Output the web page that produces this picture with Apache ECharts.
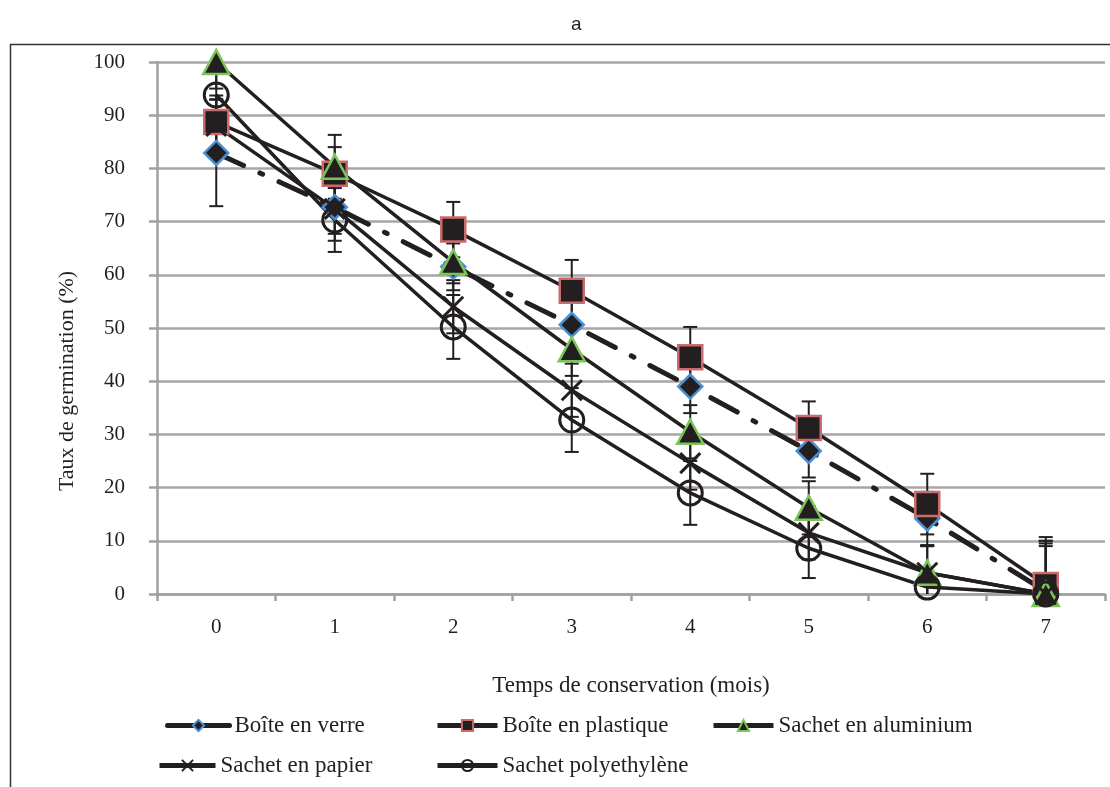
<!DOCTYPE html>
<html>
<head>
<meta charset="utf-8">
<script src="https://cdn.jsdelivr.net/npm/echarts@6/dist/echarts.min.js"></script>
<style>
  html, body { margin: 0; padding: 0; background: #fff; }
  #chart { width: 1110px; height: 787px; }
</style>
</head>
<body>
<div id="chart"></div>
<script>
// mois de conservation
var months = ['0', '1', '2', '3', '4', '5', '6', '7'];

// taux de germination (%)
var verre = [82.9, 72.7, 61.5, 50.6, 39, 26.9, 14.2, 0.5];
var plastique = [88.7, 79, 68.5, 57, 44.5, 31.2, 16.9, 1.7];
var aluminium = [100, 80.3, 62.4, 46, 30.5, 16.2, 4, 0];
var papier = [88, 72.4, 54, 38.3, 24.6, 11.5, 4, 0];
var polyethylene = [93.8, 70.3, 50.2, 32.7, 19, 8.6, 1.3, 0];

// barres d'erreur (+/-)
var errVerre = [10, 5, 4.4, 5, 5, 5, 5, 9];
var errPlastique = [5, 5, 5.2, 5.8, 5.7, 5, 5.7, 9];
var errAluminium = [5, 6, 4, 5, 5, 5, 5, 9];
var errPapier = [5, 6, 5, 5, 5, 5, 5, 10];
var errPolyethylene = [5, 6, 6, 6, 6, 5.6, 3, 10];

var names = ['Boîte en verre', 'Boîte en plastique', 'Sachet en aluminium', 'Sachet en papier', 'Sachet polyethylène'];

var ink = '#231f20';
var serif = 'Liberation Serif';

function errData(vals, errs) {
  var res = [];
  for (var i = 0; i < vals.length; i++) {
    res.push([i, vals[i] - errs[i], vals[i] + errs[i]]);
  }
  return res;
}

function renderErr(params, api) {
  var x = api.value(0);
  var top = api.coord([x, api.value(2)]);
  var bot = api.coord([x, api.value(1)]);
  var w = 7;
  var st = { stroke: ink, lineWidth: 2 };
  return {
    type: 'group',
    children: [
      { type: 'line', shape: { x1: top[0], y1: top[1], x2: bot[0], y2: bot[1] }, style: st },
      { type: 'line', shape: { x1: top[0] - w, y1: top[1], x2: top[0] + w, y2: top[1] }, style: st },
      { type: 'line', shape: { x1: bot[0] - w, y1: bot[1], x2: bot[0] + w, y2: bot[1] }, style: st }
    ]
  };
}

function errSeries(vals, errs) {
  return {
    type: 'custom',
    name: 'err',
    renderItem: renderErr,
    encode: { x: 0, y: [1, 2] },
    data: errData(vals, errs),
    clip: true,
    z: 1,
    silent: true
  };
}

var crossPath = 'path://M0,0 L10,10 M10,0 L0,10';

var myChart = echarts.init(document.getElementById('chart'));

var legendCommon = {
  itemHeight: 14,
  itemGap: 4,
  lineStyle: { width: 5, type: 'solid' },
  textStyle: { fontFamily: serif, fontSize: 23, color: ink },
  selectedMode: false
};

function mkLegend(name, left, top, w) {
  return Object.assign({}, legendCommon, { data: [name], left: left, top: top, itemWidth: w });
}

var option = {
  backgroundColor: '#fff',
  animation: false,
  title: {
    text: 'a',
    left: 566,
    top: 10,
    textStyle: { fontFamily: 'Liberation Sans', fontSize: 19, fontWeight: 'normal', color: ink }
  },
  graphic: [{
    type: 'rect',
    shape: { x: 10.5, y: 44.5, width: 1120, height: 800 },
    style: { fill: 'none', stroke: '#333', lineWidth: 1.5 },
    silent: true,
    z: -1
  }, {
    // titre de l'axe des ordonnées, décalé vers le bas comme sur l'original
    type: 'text',
    x: 67,
    y: 381,
    rotation: Math.PI / 2,
    style: {
      text: 'Taux de germination (%)',
      fill: ink,
      font: '22px "Liberation Serif"',
      align: 'center',
      verticalAlign: 'middle'
    },
    silent: true
  }],
  legend: [
    mkLegend(names[0], 160, 709, 62),
    mkLegend(names[1], 430, 709, 60),
    mkLegend(names[2], 706, 709, 60),
    mkLegend(names[3], 152, 749, 56),
    mkLegend(names[4], 430, 749, 60)
  ],
  grid: { left: 157, right: 5, top: 62, bottom: 193 },
  xAxis: {
    type: 'category',
    data: months,
    boundaryGap: true,
    name: 'Temps de conservation (mois)',
    nameLocation: 'middle',
    nameGap: 80,
    nameTextStyle: { fontFamily: serif, fontSize: 23, color: ink },
    axisLine: { lineStyle: { color: '#a0a0a0', width: 2.5 } },
    axisTick: { show: true, length: 7, interval: 0, lineStyle: { color: '#a0a0a0', width: 2.5 } },
    axisLabel: { margin: 23, fontFamily: serif, fontSize: 21, color: ink }
  },
  yAxis: {
    type: 'value',
    min: 0,
    max: 100,
    interval: 10,
    axisLine: { show: true, lineStyle: { color: '#a0a0a0', width: 2.5 } },
    axisTick: { show: true, length: 8, lineStyle: { color: '#a0a0a0', width: 2.5 } },
    axisLabel: { margin: 32, fontFamily: serif, fontSize: 21, color: ink },
    splitLine: { show: true, lineStyle: { color: '#a6a6a6', width: 2.5 } }
  },
  series: [
    errSeries(verre, errVerre),
    errSeries(plastique, errPlastique),
    errSeries(aluminium, errAluminium),
    errSeries(papier, errPapier),
    errSeries(polyethylene, errPolyethylene),
    {
      name: names[0],
      type: 'line',
      data: verre,
      symbol: 'diamond',
      symbolSize: 24,
      z: 3,
      lineStyle: { color: ink, width: 5, type: [30, 18, 3, 18], cap: 'round' },
      itemStyle: { color: ink, borderColor: '#4a8fd6', borderWidth: 2.5 }
    },
    {
      name: names[1],
      type: 'line',
      data: plastique,
      symbol: 'rect',
      symbolSize: 24,
      z: 3,
      lineStyle: { color: ink, width: 3.5 },
      itemStyle: { color: ink, borderColor: '#cc6b6b', borderWidth: 2.5 }
    },
    {
      name: names[2],
      type: 'line',
      data: aluminium,
      symbol: 'triangle',
      symbolSize: [26, 24],
      z: 3,
      lineStyle: { color: ink, width: 3.5 },
      itemStyle: { color: ink, borderColor: '#7cc45a', borderWidth: 2.5 }
    },
    {
      name: names[3],
      type: 'line',
      data: papier,
      symbol: crossPath,
      symbolSize: 20,
      z: 3,
      lineStyle: { color: ink, width: 3.5 },
      itemStyle: { color: ink, borderColor: ink, borderWidth: 3 }
    },
    {
      name: names[4],
      type: 'line',
      data: polyethylene,
      symbol: 'circle',
      symbolSize: 24,
      z: 3,
      lineStyle: { color: ink, width: 3.5 },
      itemStyle: { color: 'rgba(255,255,255,0)', borderColor: ink, borderWidth: 3 }
    }
  ]
};

myChart.setOption(option);
</script>
</body>
</html>
